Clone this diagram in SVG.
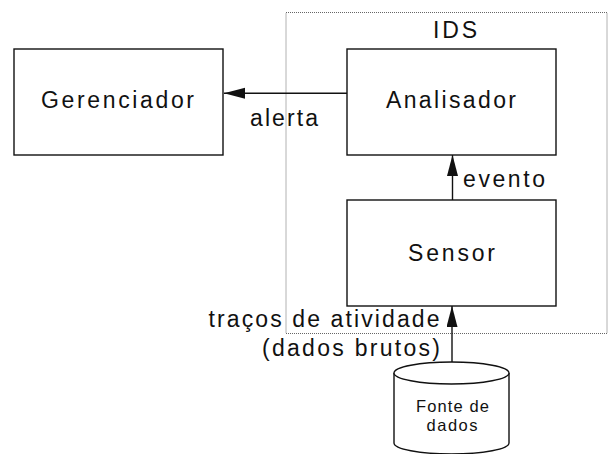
<svg xmlns="http://www.w3.org/2000/svg" width="608" height="454" viewBox="0 0 608 454">
<style>
  .box { fill: #fff; stroke: #111; stroke-width: 1.4; }
  .lbl { font-family: "Liberation Sans", Arial, sans-serif; font-size: 23px; fill: #111; }
  .small { font-family: "Liberation Sans", Arial, sans-serif; font-size: 16.5px; fill: #111; }
  .conn { stroke: #111; stroke-width: 1.4; fill: none; }
  .ids { fill: none; stroke: #666; stroke-width: 1; stroke-dasharray: 1 1; }
</style>
<defs>
  <marker id="arr" markerUnits="userSpaceOnUse" markerWidth="22" markerHeight="14" refX="21" refY="5.5" orient="auto">
    <path d="M0,0 L21,5.5 L0,11 Z" fill="#111"/>
  </marker>
</defs>
<rect width="608" height="454" fill="#fff"/>
<g id="ids">
  <rect class="ids" x="286" y="12.5" width="321" height="321"/>
  <text class="lbl" x="433" y="37.5" textLength="44" lengthAdjust="spacing">IDS</text>
</g>
<g id="gerenciador">
  <rect class="box" x="14" y="49" width="209" height="106"/>
  <text class="lbl" x="41" y="108" textLength="153" lengthAdjust="spacing">Gerenciador</text>
</g>
<g id="analisador">
  <rect class="box" x="347" y="49" width="209" height="106"/>
  <text class="lbl" x="386" y="108" textLength="130" lengthAdjust="spacing">Analisador</text>
</g>
<g id="sensor">
  <rect class="box" x="347" y="200" width="209" height="106"/>
  <text class="lbl" x="408" y="261" textLength="87" lengthAdjust="spacing">Sensor</text>
</g>
<g id="fonte">
  <path class="box" d="M394,373 L394,443 A57.5,11 0 0 0 509,443 L509,373"/>
  <ellipse class="box" cx="451.5" cy="373" rx="57.5" ry="11"/>
  <text class="small" x="416" y="412" textLength="73" lengthAdjust="spacing">Fonte de</text>
  <text class="small" x="426.5" y="431" textLength="51" lengthAdjust="spacing">dados</text>
</g>
<g id="connectors">
  <line class="conn" x1="347" y1="93.3" x2="224" y2="93.3" marker-end="url(#arr)"/>
  <line class="conn" x1="452.5" y1="200" x2="452.5" y2="155" marker-end="url(#arr)"/>
  <line class="conn" x1="452" y1="362" x2="452" y2="306" marker-end="url(#arr)"/>
  <text class="lbl" x="250" y="126" textLength="68" lengthAdjust="spacing">alerta</text>
  <text class="lbl" x="463" y="187" textLength="82" lengthAdjust="spacing">evento</text>
  <text class="lbl" x="208.5" y="327" textLength="231" lengthAdjust="spacing">traços de atividade</text>
  <text class="lbl" x="262" y="356" textLength="178" lengthAdjust="spacing">(dados brutos)</text>
</g>
</svg>
